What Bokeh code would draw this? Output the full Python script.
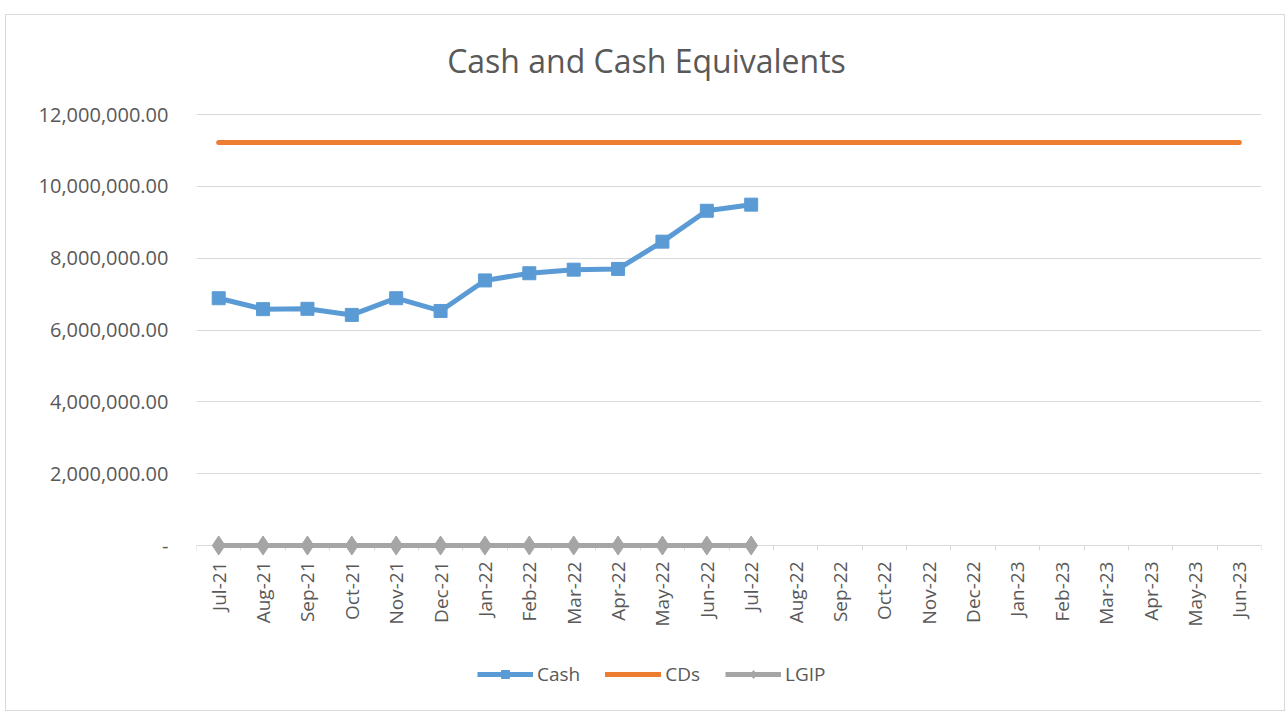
from bokeh.plotting import figure
from bokeh.models import (Range1d, FixedTicker, NumeralTickFormatter, Legend, LegendItem, Label)
from bokeh.embed import file_html
from bokeh.resources import INLINE
import math

months = ["Jul-21", "Aug-21", "Sep-21", "Oct-21", "Nov-21", "Dec-21", "Jan-22", "Feb-22",
          "Mar-22", "Apr-22", "May-22", "Jun-22", "Jul-22", "Aug-22", "Sep-22", "Oct-22",
          "Nov-22", "Dec-22", "Jan-23", "Feb-23", "Mar-23", "Apr-23", "May-23", "Jun-23"]
cash = [6885000, 6580000, 6590000, 6420000, 6885000, 6530000, 7380000, 7580000,
        7680000, 7700000, 8460000, 9320000, 9490000]
cds = [11220000] * 24
lgip = [0] * 13
y_ticks = [0, 2000000, 4000000, 6000000, 8000000, 10000000, 12000000]

FONT = "Open Sans"
TXT = "#595959"
GRID = "#d9d9d9"

# layout (pixels): figure height 697, plot area from 99 px below top to 167 px above bottom
H, TOP, BOT = 697, 99, 167
ymax = y_ticks[-1]
span_px = H - TOP - BOT
y_end = ymax + ymax * TOP / span_px
y_start = -ymax * BOT / span_px

p = figure(width=1280, height=H, output_backend="svg", toolbar_location=None,
           x_range=Range1d(-0.5, len(months) - 0.5), y_range=Range1d(y_start, y_end),
           min_border_left=190, min_border_right=25, min_border_top=0, min_border_bottom=0,
           outline_line_color=None, background_fill_color="white", border_fill_color="white")
p.styles = {"border": "1px solid #d9d9d9", "margin-top": "14px", "margin-left": "5px"}

# axes
xs = list(range(len(months)))
p.xaxis.fixed_location = 0
p.xaxis.ticker = FixedTicker(ticks=xs, minor_ticks=[i - 0.5 for i in range(len(months) + 1)])
p.xaxis.major_label_overrides = {i: m for i, m in enumerate(months)}
p.xaxis.major_label_orientation = math.pi / 2
p.xaxis.major_tick_line_color = None
p.xaxis.minor_tick_line_color = GRID
p.xaxis.minor_tick_in = 0
p.xaxis.minor_tick_out = 5
p.xaxis.axis_line_color = GRID
p.xaxis.major_label_text_font = FONT
p.xaxis.major_label_text_font_size = "19px"
p.xaxis.major_label_text_color = TXT
p.xaxis.major_label_standoff = 10

p.yaxis.ticker = FixedTicker(ticks=y_ticks, minor_ticks=[])
p.yaxis.formatter = NumeralTickFormatter(format="0,0.00")
p.yaxis.major_label_overrides = {0: "-"}
p.yaxis.axis_line_color = None
p.yaxis.major_tick_line_color = None
p.yaxis.major_label_text_font = FONT
p.yaxis.major_label_text_font_size = "20px"
p.yaxis.major_label_text_color = TXT
p.yaxis.major_label_standoff = 22

p.xgrid.grid_line_color = None
p.ygrid.grid_line_color = GRID
p.ygrid.grid_line_width = 1

# series
cash_x = xs[:len(cash)]
r1 = p.line(cash_x, cash, line_color="#5b9bd5", line_width=5, line_join="round", level="overlay")
r1s = p.scatter(cash_x, cash, marker="square", size=13, fill_color="#5b9bd5", line_color="#5b9bd5",
                level="overlay")
r2 = p.line(xs, cds, line_color="#ed7d31", line_width=5, line_cap="round", level="overlay")
lg_x = xs[:len(lgip)]
r3 = p.line(lg_x, lgip, line_color="#a5a5a5", line_width=5, level="overlay")
r3s = p.scatter(lg_x, lgip, marker="diamond", size=19, fill_color="#a5a5a5", line_color="#a5a5a5",
                level="overlay")

legend = Legend(items=[LegendItem(label="Cash", renderers=[r1, r1s]),
                       LegendItem(label="CDs", renderers=[r2]),
                       LegendItem(label="LGIP", renderers=[r3, r3s])],
                orientation="horizontal", location=(281, 25),
                glyph_width=56, glyph_height=20, label_standoff=4, spacing=25,
                label_text_font=FONT, label_text_font_size="19px", label_text_color=TXT,
                border_line_color=None, background_fill_alpha=0, margin=0, padding=0)
p.add_layout(legend, "center")

title = Label(x=450, y=H - 45, x_units="screen", y_units="screen",
              text="Cash and Cash Equivalents", text_align="center", text_baseline="middle",
              text_font=FONT, text_font_size="32px", text_color=TXT)
p.add_layout(title)

open("out.html", "w").write(file_html(p, INLINE))
